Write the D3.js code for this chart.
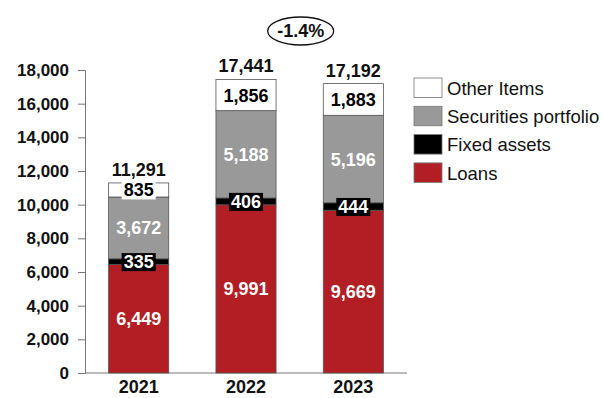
<!DOCTYPE html>
<html>
<head>
<meta charset="utf-8">
<script src="https://cdn.jsdelivr.net/npm/d3@7"></script>
<style>
  body { margin: 0; background: #fff; }
  text { font-family: "Liberation Sans", Arial, sans-serif; }
</style>
</head>
<body>
<svg id="chart" width="603" height="398"></svg>
<script>
// Balance sheet asset composition by year
const years = ["2021", "2022", "2023"];
const loans = [6449, 9991, 9669];
const fixedAssets = [335, 406, 444];
const securities = [3672, 5188, 5196];
const otherItems = [835, 1856, 1883];
const totals = [11291, 17441, 17192];
const changeLabel = "-1.4%";
const yTicks = [0, 2000, 4000, 6000, 8000, 10000, 12000, 14000, 16000, 18000];

const seriesNames = ["Loans", "Fixed assets", "Securities portfolio", "Other Items"];
const seriesColors = ["#b21e24", "#000000", "#999999", "#ffffff"];
const seriesText = ["#ffffff", "#ffffff", "#ffffff", "#000000"];

const rows = years.map((y, i) => ({
  year: y,
  "Loans": loans[i],
  "Fixed assets": fixedAssets[i],
  "Securities portfolio": securities[i],
  "Other Items": otherItems[i],
  total: totals[i]
}));

const svg = d3.select("#chart");
const fmt = d3.format(",");

const x = d3.scaleBand().domain(years).range([85, 407]).paddingInner(0.44).paddingOuter(0.22);
const y = d3.scaleLinear().domain([0, 18000]).range([373, 70]);

const stack = d3.stack().keys(seriesNames)(rows);

// y axis
const yAxis = svg.append("g").attr("transform", "translate(85,0)")
  .call(d3.axisLeft(y).tickValues(yTicks).tickFormat(fmt).tickSize(7).tickPadding(9));
yAxis.select(".domain").attr("stroke", "#777");
yAxis.selectAll(".tick line").attr("stroke", "#777");
yAxis.selectAll(".tick text").attr("font-size", 17).attr("font-weight", "bold")
  .attr("fill", "#111").style("font-family", "'Liberation Sans', Arial, sans-serif");

// baseline
svg.append("line").attr("x1", 85).attr("x2", 407).attr("y1", y(0)).attr("y2", y(0))
  .attr("stroke", "#777").attr("stroke-width", 1);

// year labels
svg.append("g").selectAll("text").data(years).join("text")
  .attr("x", d => x(d) + x.bandwidth() / 2)
  .attr("y", 393)
  .attr("text-anchor", "middle")
  .attr("font-size", 18).attr("font-weight", "bold").attr("fill", "#111")
  .text(d => d);

// stacked segments
const layers = svg.append("g").selectAll("g").data(stack).join("g")
  .attr("fill", (d, i) => seriesColors[i]);
layers.selectAll("rect").data(d => d).join("rect")
  .attr("x", d => x(d.data.year))
  .attr("width", x.bandwidth())
  .attr("y", d => y(d[1]))
  .attr("height", d => y(d[0]) - y(d[1]))
  .attr("stroke", "#555").attr("stroke-width", 0.8);

// segment value labels (thin segments get a filled box behind the number)
stack.forEach((layer, si) => {
  layer.forEach(d => {
    const cx = x(d.data.year) + x.bandwidth() / 2;
    const h = y(d[0]) - y(d[1]);
    const cy = (y(d[0]) + y(d[1])) / 2;
    const v = d[1] - d[0];
    const g = svg.append("g");
    const t = g.append("text")
      .attr("x", cx).attr("y", cy).attr("dy", "0.36em")
      .attr("text-anchor", "middle")
      .attr("font-size", 18).attr("font-weight", "bold")
      .attr("fill", seriesText[si])
      .text(fmt(v));
    if (h < 22) {
      const bb = t.node().getBBox();
      g.insert("rect", "text")
        .attr("x", bb.x - 2).attr("y", bb.y + 1)
        .attr("width", bb.width + 4).attr("height", bb.height - 2)
        .attr("fill", seriesColors[si]);
    }
  });
});

// totals above bars
svg.append("g").selectAll("text").data(rows).join("text")
  .attr("x", d => x(d.year) + x.bandwidth() / 2)
  .attr("y", d => y(d.total) - 7)
  .attr("text-anchor", "middle")
  .attr("font-size", 18).attr("font-weight", "bold").attr("fill", "#111")
  .text(d => fmt(d.total));

// year-on-year change bubble
const bx = (x("2022") + x("2023") + x.bandwidth()) / 2 + 1;
svg.append("ellipse").attr("cx", bx).attr("cy", 31).attr("rx", 33).attr("ry", 14)
  .attr("fill", "#fff").attr("stroke", "#111").attr("stroke-width", 1.3);
svg.append("text").attr("x", bx).attr("y", 31).attr("dy", "0.36em")
  .attr("text-anchor", "middle").attr("font-size", 18).attr("font-weight", "bold")
  .attr("fill", "#111").text(changeLabel);

// legend (top entry is the top of the stack)
const legendOrder = seriesNames.map((n, i) => i).reverse();
const lg = svg.append("g").attr("transform", "translate(414,78)");
legendOrder.forEach((si, k) => {
  lg.append("rect").attr("x", 0).attr("y", k * 28.3).attr("width", 28).attr("height", 19.5)
    .attr("fill", seriesColors[si]).attr("stroke", "#777").attr("stroke-width", 0.8);
  lg.append("text").attr("x", 33).attr("y", k * 28.3 + 10).attr("dy", "0.36em")
    .attr("font-size", 18.5).attr("fill", "#111").text(seriesNames[si]);
});
</script>
</body>
</html>
